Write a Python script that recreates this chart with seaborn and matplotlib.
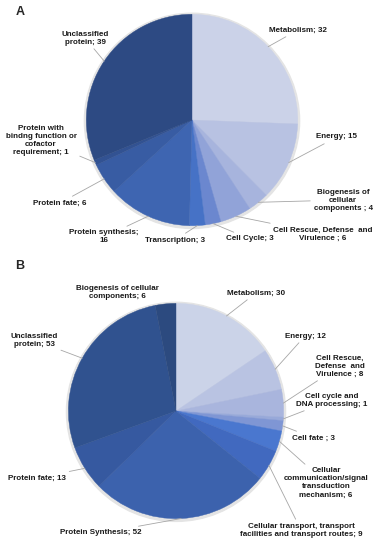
import numpy as np
import matplotlib
matplotlib.use("Agg")
import matplotlib.pyplot as plt
import seaborn as sns

# ─────────────────────────────────────────
# DATA
# ─────────────────────────────────────────
labels_a = ["Metabolism; 32", "Energy; 15", "Biogenesis of\ncellular\ncomponents ; 4",
            "Cell Rescue, Defense  and\nVirulence ; 6", "Cell Cycle; 3", "Transcription; 3",
            "Protein synthesis;\n16", "Protein fate; 6",
            "Protein with\nbindng function or\ncofactor\nrequirement; 1",
            "Unclassified\nprotein; 39"]
values_a = [32, 15, 4, 6, 3, 3, 16, 6, 1, 39]
colors_a = ["#cbd2e8", "#b8c2e2", "#a7b4dd", "#91a3d8", "#6b87cf", "#4672c6",
            "#3e65b1", "#385ca3", "#325292", "#2d4a83"]

labels_b = ["Metabolism; 30", "Energy; 12", "Cell Rescue,\nDefense  and\nVirulence ; 8",
            "Cell cycle and\nDNA processing; 1", "Cell fate ; 3",
            "Cellular\ncommunication/signal\ntransduction\nmechanism; 6",
            "Cellular transport, transport\nfacilities and transport routes; 9",
            "Protein Synthesis; 52", "Protein fate; 13", "Unclassified\nprotein; 53",
            "Biogenesis of cellular\ncomponents; 6"]
values_b = [30, 12, 8, 1, 3, 6, 9, 52, 13, 53, 6]
colors_b = ["#cbd3e8", "#b9c3e2", "#a9b5dd", "#98a9d9", "#7f96d4", "#4a77cf",
            "#4169bf", "#3c62ad", "#3659a0", "#30528f", "#2c4a7f"]

# label centres in image pixels (x from left, y from top)
pos_a = [(298, 30), (337, 137), (343, 200), (323, 234), (250, 239), (175, 240),
         (104, 237), (60, 203), (41, 140), (85, 38)]
pos_b = [(256, 293), (305, 336), (340, 366), (332, 400), (314, 438), (326, 483),
         (301, 530), (101, 533), (37, 478), (34, 340), (117, 293)]

W, H = 379, 550
sns.set_theme(style="white")
plt.rcParams['font.family'] = ['Liberation Sans', 'DejaVu Sans']

fig = plt.figure(figsize=(W / 100, H / 100), dpi=100)
fig.patch.set_facecolor("white")


def draw_pie(cx, cy, r, values, colors, labels, positions, show_line):
    ax = fig.add_axes([(cx - r) / W, (H - cy - r) / H, 2 * r / W, 2 * r / H])
    # soft shadow ring
    ax.add_patch(plt.Circle((0.0, -0.008), 1.018, color="#e4e4e4", zorder=0))
    pal = sns.color_palette(colors)
    wedges, _ = ax.pie(values, colors=pal, startangle=90,
                       counterclock=False, radius=1)
    for w, c in zip(wedges, pal):
        w.set_zorder(2)
        w.set_edgecolor(c)
        w.set_linewidth(0.3)
    ax.set_xlim(-1.05, 1.05)
    ax.set_ylim(-1.05, 1.05)
    ax.set_aspect("equal")
    ax.axis("off")
    for w, lab, (px, py), line in zip(wedges, labels, positions, show_line):
        mid = np.deg2rad((w.theta1 + w.theta2) / 2)
        xy = (np.cos(mid), np.sin(mid))
        props = dict(arrowstyle="-", color="#a6a6a6", lw=0.6, shrinkA=0, shrinkB=0) if line else None
        ax.annotate(lab, xy=xy, xycoords="data", xytext=(px, H - py),
                    textcoords="figure pixels", ha="center", va="center",
                    multialignment="center", fontsize=5.8, fontweight="bold",
                    color="#1a1a1a", arrowprops=props, annotation_clip=False)
    return ax


draw_pie(192, 120, 111, values_a, colors_a, labels_a, pos_a, [True] * len(values_a))
draw_pie(176, 411, 113, values_b, colors_b, labels_b, pos_b,
         [True] * (len(values_b) - 1) + [False])

fig.text(20 / W, 1 - 12 / H, "A", fontsize=9, fontweight="bold", ha="center", va="center")
fig.text(20 / W, 1 - 266 / H, "B", fontsize=9, fontweight="bold", ha="center", va="center")

fig.savefig("out.png", dpi=100, facecolor="white")
